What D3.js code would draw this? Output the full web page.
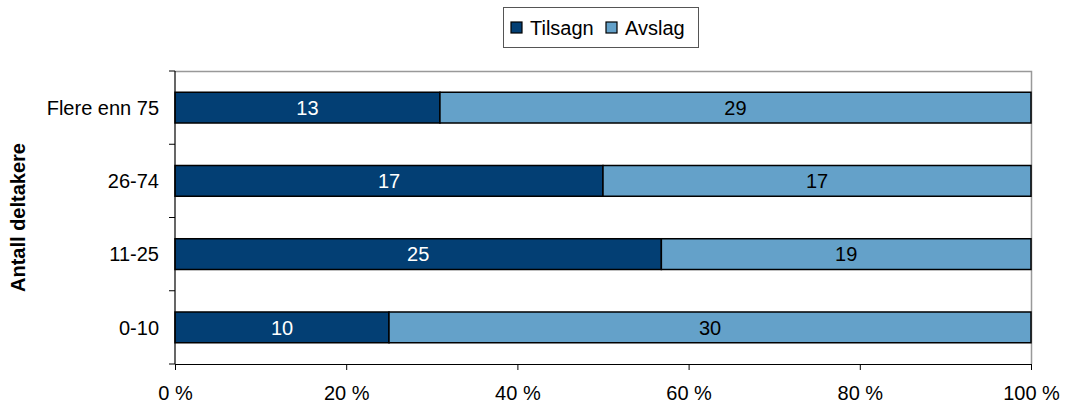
<!DOCTYPE html>
<meta charset="utf-8">
<style>
  body { margin: 0; background: #fff; }
  text { font-family: "Liberation Sans", Arial, sans-serif; }
</style>
<body>
<script src="https://cdn.jsdelivr.net/npm/d3@7"></script>
<script>
  var categories = ["Flere enn 75", "26-74", "11-25", "0-10"];
  var tilsagn = [13, 17, 25, 10];
  var avslag = [29, 17, 19, 30];
  var seriesNames = ["Tilsagn", "Avslag"];
  var xTicks = [0, 0.2, 0.4, 0.6, 0.8, 1];

  var W = 1068, H = 405;
  var margin = { top: 71, right: 37, bottom: 41, left: 175 };
  var width = W - margin.left - margin.right,
    height = H - margin.top - margin.bottom;
  var colors = ["#033f74", "#64a1c9"];
  var fs = 20;

  var rows = categories.map((c, i) => {
    var tot = tilsagn[i] + avslag[i];
    return { cat: c, vals: [tilsagn[i], avslag[i]], tot: tot };
  });

  var svg = d3.select("body").append("svg")
    .attr("width", W).attr("height", H);
  var g = svg.append("g")
    .attr("transform", "translate(" + margin.left + "," + margin.top + ")");

  var x = d3.scaleLinear().domain([0, 1]).range([0, width]);
  var y = d3.scaleBand().domain(categories).range([0, height]).paddingInner(0.58).paddingOuter(0.29);
  var band = d3.scaleBand().domain(categories).range([0, height]);

  // grey plot frame top/right
  g.append("path")
    .attr("d", "M0,0.5H" + (width + 0.5) + "V" + height)
    .attr("fill", "none").attr("stroke", "#999").attr("stroke-width", 1.5);

  // bars
  rows.forEach(r => {
    var start = 0;
    r.vals.forEach((v, j) => {
      var f = v / r.tot;
      g.append("rect")
        .attr("x", x(start)).attr("y", y(r.cat))
        .attr("width", x(start + f) - x(start)).attr("height", y.bandwidth())
        .attr("fill", colors[j]).attr("stroke", "#000").attr("stroke-width", 1.5);
      g.append("text")
        .attr("x", x(start + f / 2)).attr("y", y(r.cat) + y.bandwidth() / 2)
        .attr("dy", "0.36em").attr("text-anchor", "middle")
        .attr("font-size", fs).attr("fill", j === 0 ? "#fff" : "#000")
        .text(v);
      start += f;
    });
  });

  // x axis
  var xAxis = g.append("g")
    .attr("transform", "translate(0," + height + ")")
    .call(d3.axisBottom(x).tickValues(xTicks).tickSize(6).tickSizeOuter(0)
      .tickFormat(d => Math.round(d * 100) + " %"));
  xAxis.select(".domain").attr("stroke", "#000").attr("stroke-width", 1.2);
  xAxis.selectAll(".tick line").attr("stroke", "#000");
  xAxis.selectAll("text").attr("font-size", fs).attr("fill", "#000").attr("y", 22).attr("dy", "0.71em")
    .style("font-family", "'Liberation Sans', Arial, sans-serif");

  // y axis: line + ticks at band boundaries
  var yg = g.append("g");
  yg.append("line").attr("x1", 0).attr("x2", 0).attr("y1", 0).attr("y2", height)
    .attr("stroke", "#000").attr("stroke-width", 1.2);
  categories.concat([null]).forEach((c, i) => {
    var yy = c === null ? height : band(c);
    yg.append("line").attr("x1", -6).attr("x2", 0).attr("y1", yy).attr("y2", yy)
      .attr("stroke", "#000");
  });
  categories.forEach(c => {
    yg.append("text")
      .attr("x", -16).attr("y", y(c) + y.bandwidth() / 2).attr("dy", "0.36em")
      .attr("text-anchor", "end").attr("font-size", fs).attr("fill", "#000")
      .text(c);
  });

  // y title
  svg.append("text")
    .attr("transform", "translate(25," + (margin.top + height / 2) + ") rotate(-90)")
    .attr("text-anchor", "middle").attr("font-size", fs).attr("font-weight", "bold")
    .text("Antall deltakere");

  // legend
  var lg = svg.append("g").attr("transform", "translate(503,7)");
  lg.append("rect").attr("x", 0.5).attr("y", 0.5).attr("width", 195).attr("height", 40)
    .attr("fill", "#fff").attr("stroke", "#555").attr("stroke-width", 1);
  var lx = [8, 103];
  seriesNames.forEach((s, i) => {
    lg.append("rect").attr("x", lx[i]).attr("y", 15).attr("width", 11).attr("height", 11)
      .attr("fill", colors[i]).attr("stroke", "#000").attr("stroke-width", 1.2);
    lg.append("text").attr("x", lx[i] + 19).attr("y", 21).attr("dy", "0.36em")
      .attr("font-size", fs).text(s);
  });
</script>
</body>
